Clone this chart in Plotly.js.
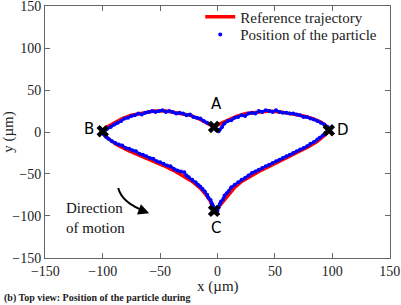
<!DOCTYPE html>
<html>
<head>
<meta charset="utf-8">
<script src="https://cdn.plot.ly/plotly-3.0.1.min.js"></script>
<style>html,body{margin:0;padding:0;background:#fff;}#chart{width:401px;height:305px;}</style>
</head>
<body>
<div id="chart"></div>
<script>
// Reference trajectory (µm)
const refX = [-3,-8,-15,-24,-35,-45,-55,-65,-75,-83,-90,-95,-99,-100,
  -98,-95,-88,-78,-67,-57,-47,-38,-30,-22,-15,-10,-6,-4,-3,
  0,3,6,10,15,21,28,36,45,54,63,72,80,87,92,95,97,
  95,90,83,75,65,55,45,35,25,17,10,4,-3];
const refY = [6,10,15,20,23,25,25,23,20,16,11,7,3,0,
  -5,-8,-15,-22,-28,-34,-40,-46,-52,-59,-67,-75,-83,-90,-95,
  -91,-86,-80,-73,-66,-59,-53,-47,-41,-35,-29,-23,-17,-11,-6,-2,2,
  7,12,16,19,22,24,25,24,22,19,15,11,6];

// Measured particle positions (µm)
const partX = [-2,-4,-6,-9,-12,-15,-18,-21,-24,-27,-30,-33,-36,-39,-42,-45,-48,-51,-54,-57,-60,-63,-66,-69,-72,-75,-78,-81,-84,-87,-90,-93,-96,-98,-100,
  -99,-97,-95,-92,-89,-86,-83,-80,-77,-74,-71,-68,-65,-62,-59,-56,-53,-50,-47,-44,-41,-38,-35,-32,-29,-27,-25,-22,-19,-17,-15,-13,-11,-9,-8,-6,-5,-4,-3,-2,-1,0,
  1,2,3,5,6,8,10,12,15,18,21,24,27,30,33,36,39,42,45,48,51,54,57,60,63,66,69,72,75,78,81,84,87,89,92,94,96,97,
  96,93,90,87,84,81,78,75,72,69,66,63,60,57,54,51,48,45,42,39,36,33,30,27,24,21,18,15,12,9,6,4,2,1,-1,-3];
const partY = [4,7,9,11,13,16,17,18,21,20,22,23,22,24,25,24,26,25,24,25,24,23,21,22,20,19,17,16,13,11,9,6,4,2,0,
  -3,-6,-8,-11,-13,-15,-16,-19,-20,-22,-23,-26,-27,-29,-31,-32,-35,-36,-38,-40,-41,-44,-46,-47,-48,-52,-54,-57,-60,-63,-65,-68,-71,-75,-78,-81,-85,-88,-91,-94,-96,-94,
  -90,-86,-83,-80,-76,-73,-70,-66,-63,-60,-57,-55,-52,-49,-47,-45,-43,-41,-39,-37,-35,-33,-31,-29,-27,-25,-23,-21,-19,-17,-14,-12,-9,-7,-4,-1,1,3,
  6,9,11,13,15,16,18,18,20,21,22,22,23,23,24,26,24,25,26,24,25,22,23,22,19,20,18,17,14,13,10,6,3,1,2,5];

// Key points
const keyNames = ["A","B","C","D"];
const keyX = [-3,-100,-3,97];
const keyY = [6,1,-94,2];
const labelX = [-1,-112,-1,109];
const labelY = [33,3,-114,2];

// Axis ticks
const tickVals = [-150,-100,-50,0,50,100,150];

const serif = "Liberation Serif, Times New Roman, serif";

const traces = [
  {x: refX, y: refY, mode: "lines", name: "Reference trajectory", legend: "legend",
   line: {color: "#ff0000", width: 3.5}},
  {x: partX, y: partY, mode: "lines", showlegend: false, hoverinfo: "skip",
   line: {color: "#0000ff", width: 2.5}},
  {x: partX, y: partY, mode: "markers", name: "Position of the particle", legend: "legend2",
   marker: {color: "#0000ff", size: 4}},
  {x: keyX, y: keyY, mode: "markers", showlegend: false,
   marker: {symbol: "x", color: "#000", size: 11}}
];

const annotations = keyNames.map((t, i) => ({
  x: labelX[i], y: labelY[i], xref: "x", yref: "y", text: t, showarrow: false,
  font: {family: "DejaVu Sans, sans-serif", size: 15, color: "#000"}
}));
annotations.push({
  x: -134, y: -102, xref: "x", yref: "y", xanchor: "left", yanchor: "middle",
  align: "left", text: "Direction<br>of motion", showarrow: false,
  font: {family: serif, size: 15, color: "#111"}
});
annotations.push({
  x: -59.5, y: -97, ax: -67, ay: -93, xref: "x", yref: "y", axref: "x", ayref: "y",
  text: "", showarrow: true, arrowhead: 2, arrowsize: 1.1, arrowwidth: 2, arrowcolor: "#000"
});
// x-axis title
annotations.push({
  x: 0.5, y: -0.115, xref: "paper", yref: "paper", xanchor: "center", yanchor: "middle",
  text: "x (µm)", showarrow: false,
  font: {family: serif, size: 15, color: "#222"}
});
annotations.push({
  x: -0.125, y: -0.19, xref: "paper", yref: "paper", xanchor: "left", yanchor: "bottom",
  text: "<b>(b) Top view: Position of the particle during</b>", showarrow: false,
  font: {family: serif, size: 10, color: "#222"}
});

const axisCommon = {
  range: [-150.3, 150.3], tickmode: "array", tickvals: tickVals,
  showgrid: false, zeroline: false,
  showline: true, linecolor: "#666", linewidth: 1, mirror: "ticks",
  ticks: "inside", ticklen: 5, tickcolor: "#666", ticklabeloverflow: "allow",
  tickfont: {family: serif, size: 14, color: "#222"}
};

const legendCommon = {x: 0.45, xanchor: "left", yanchor: "middle", bgcolor: "rgba(0,0,0,0)",
  font: {family: serif, size: 15, color: "#222"}};

const layout = {
  width: 401, height: 305,
  margin: {l: 45, r: 11, t: 6, b: 47, autoexpand: false},
  paper_bgcolor: "#fff", plot_bgcolor: "#fff",
  xaxis: Object.assign({}, axisCommon),
  yaxis: Object.assign({}, axisCommon, {
    title: {text: "y (µm)", font: {family: serif, size: 15, color: "#222"}, standoff: 6}
  }),
  legend: Object.assign({}, legendCommon, {y: 0.956}),
  legend2: Object.assign({}, legendCommon, {y: 0.886}),
  shapes: [{
    type: "path", xref: "x", yref: "y",
    path: "M -86.5,-66.7 C -84,-80 -76,-88 -63,-94.5",
    line: {color: "#000", width: 2}
  }],
  annotations: annotations,
  showlegend: true
};

Plotly.newPlot("chart", traces, layout, {displayModeBar: false, staticPlot: true});
</script>
</body>
</html>
